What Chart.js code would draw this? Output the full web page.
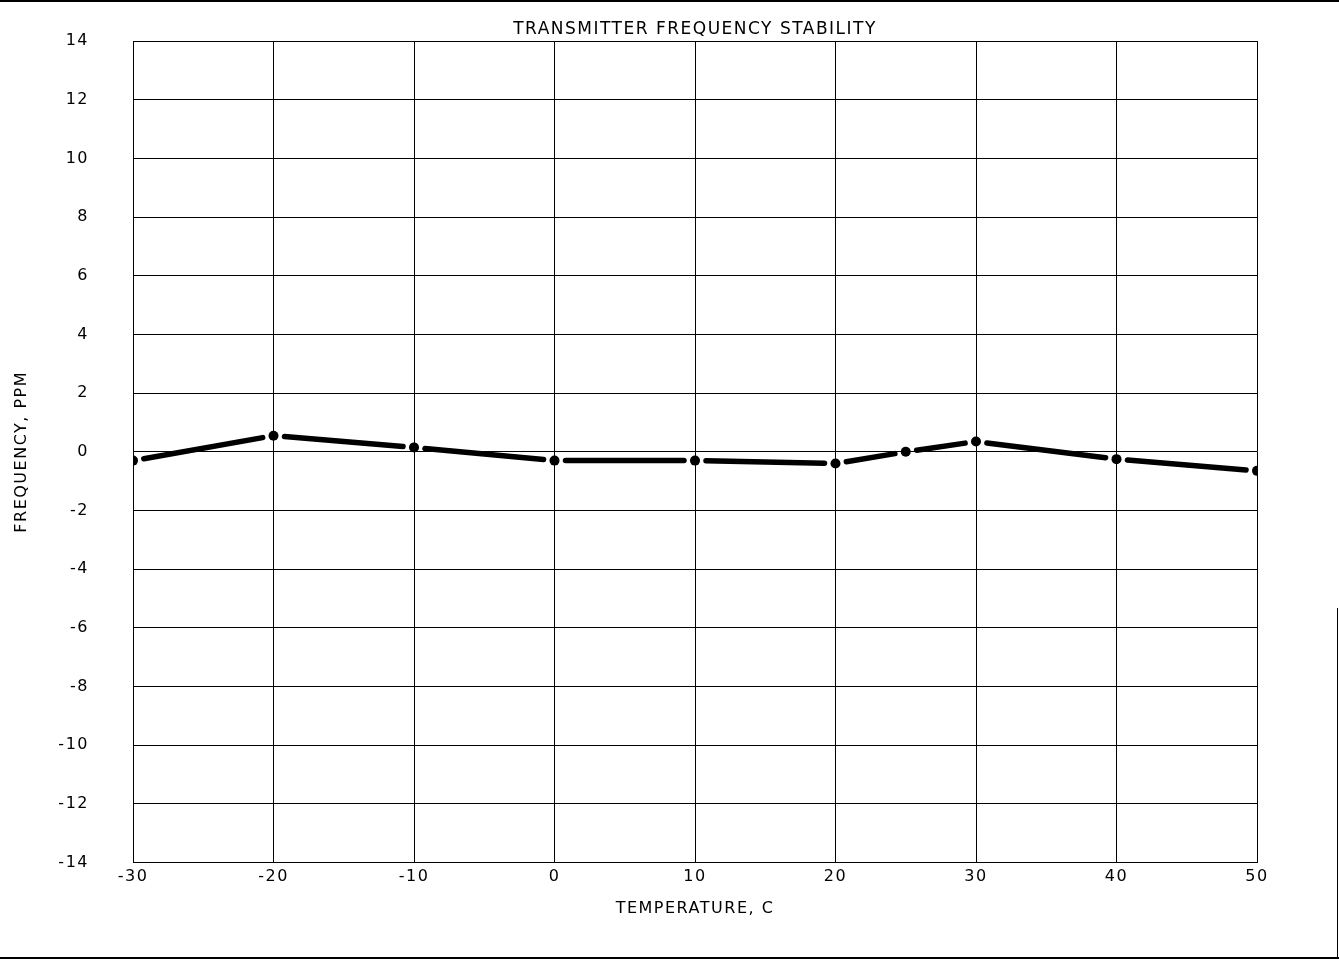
<!DOCTYPE html>
<html>
<head>
<meta charset="utf-8">
<title>Transmitter Frequency Stability</title>
<script src="https://cdn.jsdelivr.net/npm/chart.js@4"></script>
<style>
    html, body { margin: 0; padding: 0; background: #fff; }
    #wrap { position: relative; width: 1339px; height: 961px; }
    #chart { position: absolute; left: 0; top: 0; }
    .edge { position: absolute; background: #000; }
</style>
</head>
<body>
<div id="wrap">
    <canvas id="chart" width="1339" height="961"></canvas>
    <!-- scan edges of the page -->
    <div class="edge" style="left:0;top:0;width:1339px;height:2px"></div>
    <div class="edge" style="left:0;top:957px;width:1339px;height:2px"></div>
    <div class="edge" style="left:1337px;top:608px;width:1px;height:350px"></div>
</div>
<script>
// measured points, temperature in C and frequency offset in ppm
const temps = [-30, -20, -10, 0, 10, 20, 25, 30, 40, 50];
const ppm = [-0.3, 0.55, 0.15, -0.3, -0.3, -0.4, 0.0, 0.35, -0.25, -0.65];

// axis ranges
const x_ticks = { min: -30, max: 50, step: 10 };
const y_ticks = { min: -14, max: 14, step: 2 };

const font_family = "'DejaVu Sans', sans-serif";

// plotter style letter spacing for all text
const spacing_plugin = {
    id: "spacing",
    beforeInit(chart) {
        chart.ctx.letterSpacing = "1.5px";
    },
    beforeDraw(chart) {
        chart.ctx.letterSpacing = "1.5px";
    }
};

// draw the curve as short pen strokes that stop just before each point
const gapped_line_plugin = {
    id: "gappedLine",
    afterDatasetsDraw(chart) {
        const ctx = chart.ctx;
        const pts = chart.getDatasetMeta(0).data;
        const gap = 11;
        ctx.save();
        ctx.strokeStyle = "#000";
        ctx.lineWidth = 5.5;
        ctx.lineCap = "round";
        for (let i = 0; i < pts.length - 1; i++) {
            const a = pts[i], b = pts[i + 1];
            const dx = b.x - a.x, dy = b.y - a.y;
            const len = Math.sqrt(dx * dx + dy * dy);
            if (len < gap * 2) continue;
            const ux = dx / len, uy = dy / len;
            ctx.beginPath();
            ctx.moveTo(a.x + ux * gap, a.y + uy * gap);
            ctx.lineTo(b.x - ux * gap, b.y - uy * gap);
            ctx.stroke();
        }
        ctx.restore();
    }
};

window.ctx = document.getElementById("chart");
window.chart = new Chart(ctx, {
    type: "scatter",
    data: {
        datasets: [{
            label: "Frequency",
            data: temps.map((t, i) => ({ x: t, y: ppm[i] })),
            showLine: false,
            pointRadius: 5,
            pointBackgroundColor: "#000",
            pointBorderColor: "#000",
            pointBorderWidth: 0
        }]
    },
    options: {
        responsive: false,
        animation: false,
        layout: { padding: { left: 0, right: 82, top: 0, bottom: 43 } },
        plugins: {
            legend: { display: false },
            tooltip: { enabled: false },
            title: {
                display: true,
                fullSize: false,
                text: "TRANSMITTER FREQUENCY STABILITY",
                color: "#000",
                font: { family: font_family, size: 17, weight: "normal" },
                padding: { top: 19, bottom: 1.6 }
            }
        },
        scales: {
            x: {
                type: "linear",
                min: x_ticks.min,
                max: x_ticks.max,
                border: { color: "#000", width: 1 },
                grid: { color: "#000", lineWidth: 1, tickLength: 0 },
                ticks: {
                    stepSize: x_ticks.step,
                    color: "#000",
                    font: { family: font_family, size: 16 },
                    padding: 5,
                    maxRotation: 0
                },
                title: {
                    display: true,
                    text: "TEMPERATURE, C",
                    color: "#000",
                    font: { family: font_family, size: 16 },
                    padding: { top: 7, bottom: 0 }
                },
                afterFit(scale) {
                    scale.paddingLeft = 0;
                    scale.paddingRight = 0;
                }
            },
            y: {
                type: "linear",
                min: y_ticks.min,
                max: y_ticks.max,
                border: { color: "#000", width: 1 },
                grid: { color: "#000", lineWidth: 1, tickLength: 0 },
                ticks: {
                    stepSize: y_ticks.step,
                    color: "#000",
                    font: { family: font_family, size: 16 },
                    padding: 44
                },
                title: {
                    display: true,
                    text: "FREQUENCY, PPM",
                    color: "#000",
                    font: { family: font_family, size: 16 },
                    padding: { top: 12, bottom: 0 }
                },
                afterFit(scale) {
                    scale.width = 133;
                    scale.paddingTop = 0;
                    scale.paddingBottom = 0;
                }
            }
        }
    },
    plugins: [spacing_plugin, gapped_line_plugin]
});
</script>
</body>
</html>
